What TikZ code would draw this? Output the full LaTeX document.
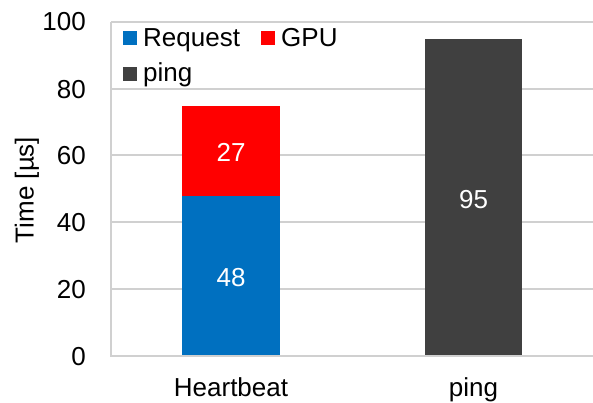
\documentclass[tikz,border=0pt]{standalone}
\usepackage{fontspec}
\setmainfont{Liberation Sans}
\definecolor{gridc}{RGB}{208,208,208}
\definecolor{reqc}{RGB}{0,112,192}
\definecolor{gpuc}{RGB}{255,0,0}
\definecolor{pingc}{RGB}{64,64,64}
\begin{document}
\begin{tikzpicture}[x=1pt,y=-1pt,
  lbl/.style={inner sep=0pt,font=\fontsize{26}{31}\selectfont},
  ticklbl/.style={lbl,anchor=base east},
  catlbl/.style={lbl,anchor=base},
  vallbl/.style={lbl,anchor=base,text=white},
  gridln/.style={draw=gridc,line width=1.3pt},
  legsq/.style={inner sep=0pt,minimum size=14pt,anchor=north west}]
\useasboundingbox (0,0) rectangle (593,402);
% grid
\foreach \yy in {22,89,155,222,289}
  \draw[gridln] (111,\yy) -- (593,\yy);
% bars
\fill[reqc] (182,196) rectangle (280,356);
\fill[gpuc] (182,106) rectangle (280,196);
\fill[pingc] (425,39) rectangle (522,356);
% axes
\draw[gridln] (111,22) -- (111,356) -- (593,356);
% tick labels
\node[ticklbl] (t100) at (86,30.5) {100};
\node[ticklbl] (t80) at (86,98) {80};
\node[ticklbl] (t60) at (86,164) {60};
\node[ticklbl] (t40) at (86,231) {40};
\node[ticklbl] (t20) at (86,298) {20};
\node[ticklbl] (t0) at (86,365) {0};
% axis title
\node[lbl,anchor=base,rotate=90] (ytitle) at (33.5,190) {Time [µs]};
% category labels
\node[catlbl] (c1) at (231,396) {Heartbeat};
\node[catlbl] (c2) at (473.5,396) {ping};
% value labels
\node[vallbl] (v48) at (231,286) {48};
\node[vallbl] (v27) at (231,161) {27};
\node[vallbl] (v95) at (473.5,208) {95};
% legend
\node[legsq,fill=reqc] (lq1) at (123,31) {};
\node[lbl,anchor=base west] (lt1) at (143,46) {Request};
\node[legsq,fill=gpuc] (lq2) at (261,31) {};
\node[lbl,anchor=base west] (lt2) at (281,46) {GPU};
\node[legsq,fill=pingc] (lq3) at (123,67) {};
\node[lbl,anchor=base west] (lt3) at (143,81) {ping};
\end{tikzpicture}
\end{document}
